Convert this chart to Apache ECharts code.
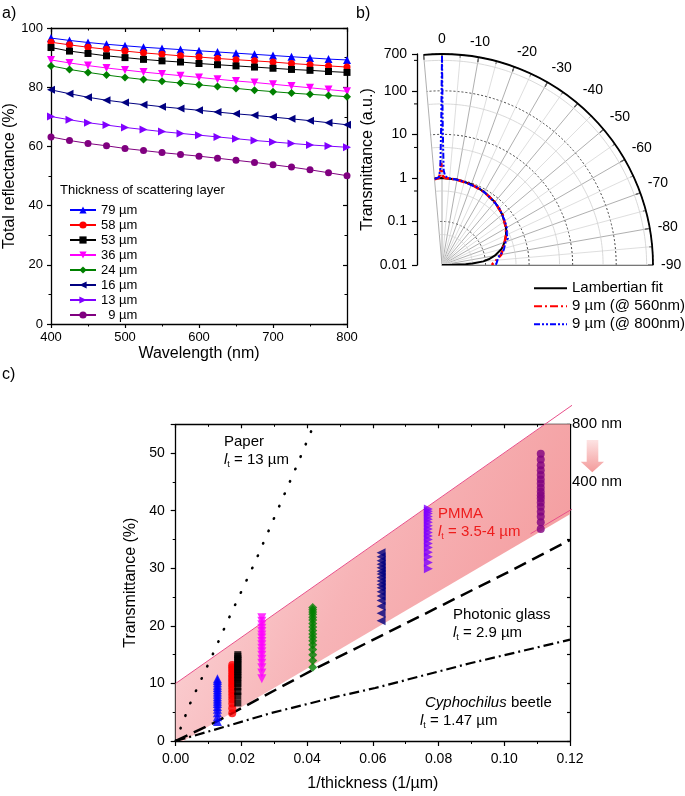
<!DOCTYPE html>
<html><head><meta charset="utf-8">
<script src="https://cdn.jsdelivr.net/npm/echarts@6/dist/echarts.min.js"></script>
<style>html,body{margin:0;padding:0;background:#fff}#c{width:685px;height:796px}</style>
</head><body><div id="c"></div>
<script>
// ---------- DATA ----------
// Panel a: total reflectance vs wavelength
const wavelengths = [400,425,450,475,500,525,550,575,600,625,650,675,700,725,750,775,800];
const layerNames = ['79 µm','58 µm','53 µm','36 µm','24 µm','16 µm','13 µm','9 µm'];
const refl79 = [96.6,95.8,95.1,94.5,94.0,93.5,93.1,92.7,92.3,91.9,91.5,91.1,90.7,90.3,89.9,89.5,89.2];
const refl58 = [95.2,94.3,93.5,92.8,92.2,91.6,91.1,90.6,90.2,89.7,89.3,88.9,88.5,88.0,87.6,87.2,86.8];
const refl53 = [93.4,92.2,91.4,90.6,90.0,89.4,88.9,88.5,88.0,87.6,87.2,86.8,86.4,86.0,85.7,85.3,85.0];
const refl36 = [89.2,88.2,87.3,86.5,85.8,85.1,84.5,83.9,83.3,82.7,82.1,81.6,81.0,80.4,79.8,79.2,78.6];
const refl24 = [87.2,86.0,85.0,84.1,83.3,82.6,82.0,81.4,80.8,80.2,79.6,79.0,78.5,78.0,77.6,77.2,76.8];
const refl16 = [79.1,77.8,76.6,75.6,74.8,74.1,73.4,72.8,72.2,71.6,71.0,70.5,69.9,69.3,68.7,68.0,67.3];
const refl13 = [70.1,69.0,68.0,67.2,66.4,65.7,65.0,64.4,63.8,63.2,62.6,62.0,61.5,61.0,60.5,60.1,59.7];
const refl9  = [63.2,62.0,61.0,60.2,59.3,58.6,57.9,57.3,56.7,56.0,55.3,54.6,53.8,53.0,52.1,51.1,50.1];

// Panel b: angular transmittance (angle in degrees, value in a.u.)
const lambertAngles = [5,0,-10,-20,-30,-40,-50,-60,-65,-70,-75,-80,-83,-85,-87,-88,-89,-89.5];
const lambertValues = [1.0,1.0,0.98,0.94,0.87,0.77,0.64,0.5,0.42,0.34,0.26,0.17,0.12,0.09,0.05,0.035,0.017,0.01];
const red560Angles = [5,2,1,0.5,0,-0.5,-2,-10,-20,-30,-40,-50,-60,-65,-70,-75,-80,-85,-88,-90];
const red560Values = [0.95,1.0,1.3,2.2,1.5,1.1,1.0,0.97,0.93,0.86,0.77,0.65,0.5,0.42,0.34,0.28,0.24,0.18,0.15,0.14];
const blue800Angles = [5,2,1,0.3,0,-0.3,-1,-2,-5,-10,-15,-20,-25,-30,-35,-40,-45,-50,-55,-60,-65,-68,-70,-75,-78,-80,-83,-85,-88,-90];
const blue800Values = [0.95,1.05,1.6,20,650,15,1.5,1.1,1.0,0.97,0.95,0.9,0.92,0.86,0.8,0.75,0.72,0.63,0.58,0.52,0.44,0.43,0.36,0.3,0.27,0.22,0.2,0.19,0.18,0.17];
const minorRings = [0.05,0.5,5,50,500];

// Panel c: transmittance vs 1/thickness
const invThickness = [0.0127,0.0172,0.0189,0.0262,0.0417,0.0625,0.0769,0.1111];
const trans79 = [3.4,4.2,4.9,5.5,6.0,6.5,6.9,7.3,7.7,8.1,8.5,8.9,9.3,9.7,10.1,10.5,10.8];
const trans58 = [4.8,5.7,6.5,7.2,7.8,8.4,8.9,9.4,9.8,10.3,10.7,11.1,11.5,12.0,12.4,12.8,13.2];
const trans53 = [6.6,7.8,8.6,9.4,10.0,10.6,11.1,11.5,12.0,12.4,12.8,13.2,13.6,14.0,14.3,14.7,15.0];
const trans36 = [10.8,11.8,12.7,13.5,14.2,14.9,15.5,16.1,16.7,17.3,17.9,18.4,19.0,19.6,20.2,20.8,21.4];
const trans24 = [12.8,14.0,15.0,15.9,16.7,17.4,18.0,18.6,19.2,19.8,20.4,21.0,21.5,22.0,22.4,22.8,23.2];
const trans16 = [20.9,22.2,23.4,24.4,25.2,25.9,26.6,27.2,27.8,28.4,29.0,29.5,30.1,30.7,31.3,32.0,32.7];
const trans13 = [29.9,31.0,32.0,32.8,33.6,34.3,35.0,35.6,36.2,36.8,37.4,38.0,38.5,39.0,39.5,39.9,40.3];
const trans9  = [36.8,38.0,39.0,39.8,40.7,41.4,42.1,42.7,43.3,44.0,44.7,45.4,46.2,47.0,47.9,48.9,49.9];
const bandX = [0,0.1125,0.12,0.12,0.0024,0];
const bandY = [10,55,55,39.4,0,0];
const bandUpperEdge = [[0,10],[0.1216,58.7]];
const bandLowerEdge = [[0.108,36.0],[0.1266,42.3]];
const paperX = [0,0.0043,0.011,0.016,0.0241,0.0307,0.0373,0.0421];
const paperY = [0,6.4,14.7,21.1,31.0,39.7,48.4,55];
const glassX = [0,0.0115,0.0419,0.0591,0.0794,0.1028,0.12];
const glassY = [0,3.1,12.4,17.3,23.1,29.8,34.9];
const beetleX = [0,0.0115,0.0287,0.049,0.0607,0.0896,0.12];
const beetleY = [0,1.9,4.8,7.7,9.2,13.5,17.6];

// ---------- STYLES ----------
const FONT = '"Liberation Sans", Arial, Helvetica, sans-serif';
const reflSets = [refl79,refl58,refl53,refl36,refl24,refl16,refl13,refl9];
const transSets = [trans79,trans58,trans53,trans36,trans24,trans16,trans13,trans9];
const markStyles = [
  {color:'#0000ff', symbol:'triangle', rotate:0, a:8, c:9},
  {color:'#ff0000', symbol:'circle', rotate:0, a:7, c:8},
  {color:'#000000', symbol:'rect', rotate:0, a:7, c:7},
  {color:'#ff00ff', symbol:'triangle', rotate:180, a:8, c:9},
  {color:'#008000', symbol:'diamond', rotate:0, a:8, c:9},
  {color:'#000080', symbol:'triangle', rotate:90, a:8, c:9},
  {color:'#8000ff', symbol:'triangle', rotate:-90, a:8, c:9},
  {color:'#800080', symbol:'circle', rotate:0, a:7, c:8}
];

function isObj(o){return o && typeof o === 'object' && !Array.isArray(o);}
function merge(a,b){const r=Object.assign({},a);for(const k in b){r[k]=(isObj(a[k])&&isObj(b[k]))?merge(a[k],b[k]):b[k];}return r;}
const baseAxis = {
  type:'value',
  axisLine:{show:true,onZero:false,lineStyle:{color:'#000',width:1.3}},
  axisTick:{show:true,inside:false,length:4,lineStyle:{color:'#000',width:1.2}},
  minorTick:{show:true,splitNumber:2,length:2.5,lineStyle:{color:'#000',width:1}},
  axisLabel:{color:'#000',fontSize:13,fontFamily:FONT},
  splitLine:{show:false},
  nameTextStyle:{color:'#000',fontSize:16,fontFamily:FONT}
};
const mirror = {axisTick:{inside:true},minorTick:{length:2.5},axisLabel:{show:false}};
function ax(o){return merge(baseAxis,o);}

const series = [];
// Panel a lines
reflSets.forEach((arr,k)=>{
  const s = markStyles[k];
  series.push({
    name: layerNames[k], type:'line', xAxisIndex:0, yAxisIndex:0,
    data: wavelengths.map((w,i)=>[w,arr[i]]),
    symbol:s.symbol, symbolRotate:s.rotate, symbolSize:s.a, showSymbol:true,
    itemStyle:{color:s.color}, lineStyle:{color:s.color,width:1},
    animation:false, z:3
  });
});
// Panel b: minor rings
series.push({
  type:'custom', coordinateSystem:'polar', polarIndex:0, silent:true, z:1,
  data: minorRings.map(r=>[r,0]),
  renderItem(params, api){
    const r = api.value(0); const pts=[];
    for(let a=5;a>=-90;a-=1) pts.push(api.coord([r,a]));
    return {type:'polyline',shape:{points:pts},style:{stroke:'#cfcfcf',lineWidth:0.8,fill:null}};
  }, animation:false
});
// left-axis minor ticks for panel b
series.push({
  type:'custom', xAxisIndex:2, yAxisIndex:2, silent:true, clip:false,
  data: minorRings.map(v=>[0,v]),
  renderItem(params, api){
    const p = api.coord([0, api.value(1)]);
    return {type:'line',shape:{x1:p[0]-3,y1:p[1],x2:p[0],y2:p[1]},style:{stroke:'#000',lineWidth:1}};
  }, animation:false
});
series.push({name:'Lambertian fit',type:'line',coordinateSystem:'polar',polarIndex:0,
  data: lambertAngles.map((a,i)=>[lambertValues[i],a]), symbol:'none', showSymbol:false,
  lineStyle:{color:'#000',width:2}, itemStyle:{color:'#000'}, animation:false, z:4});
series.push({name:'9 µm (@ 560nm)',type:'line',coordinateSystem:'polar',polarIndex:0,
  data: red560Angles.map((a,i)=>[red560Values[i],a]), symbol:'none', showSymbol:false,
  lineStyle:{color:'#ff0000',width:2.6,type:[8,3,2,3]}, itemStyle:{color:'#ff0000'}, animation:false, z:5});
series.push({name:'9 µm (@ 800nm)',type:'line',coordinateSystem:'polar',polarIndex:0,
  data: blue800Angles.map((a,i)=>[blue800Values[i],a]), symbol:'none', showSymbol:false,
  lineStyle:{color:'#0000ff',width:2,type:[6,2,2,2,2,2]}, itemStyle:{color:'#0000ff'}, animation:false, z:6});

// Panel c band
series.push({
  type:'custom', xAxisIndex:3, yAxisIndex:3, silent:true, z:1,
  data:[[0,0]],
  renderItem(params, api){
    const pts = bandX.map((x,i)=>api.coord([x,bandY[i]]));
    return {type:'polygon',shape:{points:pts},style:{
      fill:{type:'linear',x:0,y:0.2,x2:1,y2:0.8,colorStops:[
        {offset:0,color:'#fcdadd'},{offset:0.45,color:'#f7b4b7'},{offset:1,color:'#f39799'}]}}};
  }, animation:false
});
series.push({type:'line',xAxisIndex:3,yAxisIndex:3,data:bandUpperEdge,symbol:'none',clip:false,
  lineStyle:{color:'#e8508a',width:1},silent:true,animation:false,z:2});
series.push({type:'line',xAxisIndex:3,yAxisIndex:3,data:bandLowerEdge,symbol:'none',clip:false,
  lineStyle:{color:'#e8508a',width:1},silent:true,animation:false,z:2});
series.push({type:'line',xAxisIndex:3,yAxisIndex:3,data:paperX.map((x,i)=>[x,paperY[i]]),symbol:'none',
  lineStyle:{color:'#000',width:2.6,type:[0.5,13],cap:'round'},silent:true,animation:false,z:3});
series.push({type:'line',xAxisIndex:3,yAxisIndex:3,data:glassX.map((x,i)=>[x,glassY[i]]),symbol:'none',
  lineStyle:{color:'#000',width:2.5,type:[13,7]},silent:true,animation:false,z:3});
series.push({type:'line',xAxisIndex:3,yAxisIndex:3,data:beetleX.map((x,i)=>[x,beetleY[i]]),symbol:'none',
  lineStyle:{color:'#000',width:2.2,type:[10,4,2,4]},silent:true,animation:false,z:3});
transSets.forEach((arr,k)=>{
  const s = markStyles[k];
  series.push({
    name:'T ' + layerNames[k], type:'scatter', xAxisIndex:3, yAxisIndex:3,
    data: arr.map(v=>[invThickness[k],v]),
    symbol:s.symbol, symbolRotate:s.rotate, symbolSize:s.c,
    itemStyle:{color:s.color}, animation:false, z:4
  });
});

// ---------- TEXT HELPERS ----------
function lt(x,y,rest,color){
  return {type:'text',x:x,y:y,z:100,silent:true,style:{
    text:'{i|l}{s|t}{n| = '+rest+'}', fill:color, fontFamily:FONT, fontSize:15,
    verticalAlign:'middle', align:'left',
    rich:{i:{fontStyle:'italic',fontSize:15,lineHeight:18,fill:color,fontFamily:FONT},
          s:{fontSize:9,lineHeight:8,verticalAlign:'bottom',fill:color,fontFamily:FONT},
          n:{fontSize:15,lineHeight:18,fill:color,fontFamily:FONT}}}};
}
function txt(x,y,t,size,color,extra){
  return {type:'text',x:x,y:y,z:100,silent:true,style:Object.assign({text:t,fill:color||'#000',fontFamily:FONT,fontSize:size,verticalAlign:'middle',align:'left'},extra||{})};
}

const option = {
  animation:false,
  textStyle:{fontFamily:FONT},
  grid:[
    {left:51,top:28,width:296,height:296},
    {left:417,top:54,width:4,height:211},
    {left:175.7,top:424.3,width:394.3,height:316.7}
  ],
  xAxis:[
    ax({gridIndex:0,min:400,max:800,interval:100,position:'bottom',axisLabel:{margin:7},
        name:'Wavelength (nm)',nameLocation:'middle',nameGap:22}),
    ax(merge({gridIndex:0,min:400,max:800,interval:100,position:'top'},mirror)),
    {gridIndex:1,type:'value',min:0,max:1,show:false},
    ax({gridIndex:2,min:0,max:0.12,interval:0.02,position:'bottom',
        axisTick:{length:5},minorTick:{length:3},
        axisLabel:{fontSize:14,margin:11,formatter:v=>v.toFixed(2)},
        name:'1/thickness (1/µm)',nameLocation:'middle',nameGap:35}),
    ax(merge({gridIndex:2,min:0,max:0.12,interval:0.02,position:'top'},mirror))
  ],
  yAxis:[
    ax({gridIndex:0,min:0,max:100,interval:20,position:'left',axisLabel:{margin:8},
        name:'Total reflectance (%)',nameLocation:'middle',nameGap:26}),
    ax(merge({gridIndex:0,min:0,max:100,interval:20,position:'right'},mirror)),
    {gridIndex:1,type:'log',logBase:10,min:0.01,max:700,position:'left',
      axisLine:{show:true,lineStyle:{color:'#000',width:1.3}},
      axisTick:{show:true,inside:false,length:5,lineStyle:{color:'#000',width:1.2}},
      axisLabel:{show:true,color:'#000',fontSize:14,fontFamily:FONT,margin:10},
      splitLine:{show:false},
      name:'Transmittance (a.u.)',nameLocation:'middle',nameGap:38,
      nameTextStyle:{color:'#000',fontSize:16,fontFamily:FONT}},
    ax({gridIndex:2,min:0,max:55,interval:10,position:'left',
        axisTick:{length:5},minorTick:{length:3},
        axisLabel:{fontSize:14,margin:11,formatter:v=>v===55?'':String(v)},
        name:'Transmittance (%)',nameLocation:'middle',nameGap:36}),
    ax({gridIndex:2,min:0,max:55,interval:5,position:'right',
        axisTick:{inside:true,length:3},minorTick:{show:false},
        axisLabel:{show:true,fontSize:15,margin:2,formatter:v=>v===55?'800 nm':(v===45?'400 nm':'')}})
  ],
  polar:[{center:[442,265],radius:211}],
  angleAxis:[{
    polarIndex:0,type:'value',min:-90,max:5,interval:10,startAngle:0,endAngle:95,clockwise:false,
    axisLine:{show:true,lineStyle:{color:'#000',width:1.8}},
    axisTick:{show:true,inside:true,length:5,lineStyle:{color:'#000',width:1.2}},
    minorTick:{show:true,splitNumber:2,length:3,lineStyle:{color:'#000',width:1}},
    axisLabel:{show:true,margin:8,fontSize:14,color:'#000',fontFamily:FONT,formatter:v=>v>0?'':String(v)},
    splitLine:{show:true,lineStyle:{color:'#9a9a9a',width:0.8}},
    minorSplitLine:{show:true,lineStyle:{color:'#d6d6d6',width:0.8}}
  }],
  radiusAxis:[{
    polarIndex:0,type:'log',logBase:10,min:0.01,max:700,
    axisLine:{show:true,lineStyle:{color:'#777',width:1}},
    axisTick:{show:false},axisLabel:{show:false},
    splitLine:{show:true,lineStyle:{color:'#444',width:1,type:[2,2]}}
  }],
  legend:[
    {data:layerNames,orient:'vertical',left:64,top:197.5,itemWidth:26,itemHeight:9,itemGap:0,
     selectedMode:false,
     textStyle:{fontSize:13,lineHeight:15,color:'#000',fontFamily:FONT},
     formatter:n=>(n==='9 µm'?'\u2007':'')+n},
    {data:['Lambertian fit','9 µm (@ 560nm)','9 µm (@ 800nm)'],orient:'vertical',left:528,top:274.3,
     itemWidth:33,itemHeight:10,itemGap:0,selectedMode:false,itemStyle:{opacity:0},
     textStyle:{fontSize:15,lineHeight:18,color:'#000',fontFamily:FONT}}
  ],
  graphic:[
    txt(2,14,'a)',16),
    txt(356,14,'b)',16),
    txt(2,375,'c)',16),
    txt(60,190,'Thickness of scattering layer',13),
    txt(224,441.7,'Paper',15),
    lt(224,460,'13 µm','#000'),
    txt(438,514,'PMMA',15,'#ee1c1c'),
    lt(438,532,'3.5-4 µm','#ee1c1c'),
    txt(453,615,'Photonic glass',15),
    lt(453,633,'2.9 µm','#000'),
    {type:'text',x:425,y:702.7,z:100,silent:true,style:{text:'{i|Cyphochilus}{n| beetle}',fill:'#000',fontFamily:FONT,fontSize:15,verticalAlign:'middle',align:'left',
      rich:{i:{fontStyle:'italic',fontSize:15,fill:'#000',fontFamily:FONT},n:{fontSize:15,fill:'#000',fontFamily:FONT}}}},
    lt(420,721,'1.47 µm','#000'),
    {type:'polygon',z:100,silent:true,shape:{points:[[586.7,440],[598.3,440],[598.3,461.7],[604,461.7],[592.3,472.3],[580.7,461.7],[586.7,461.7]]},
     style:{fill:{type:'linear',x:0,y:0,x2:0,y2:1,colorStops:[{offset:0,color:'#fde3e3'},{offset:1,color:'#f39a9a'}]}}}
  ],
  series:series
};
const chart = echarts.init(document.getElementById('c'));
chart.setOption(option);
</script>
</body></html>
